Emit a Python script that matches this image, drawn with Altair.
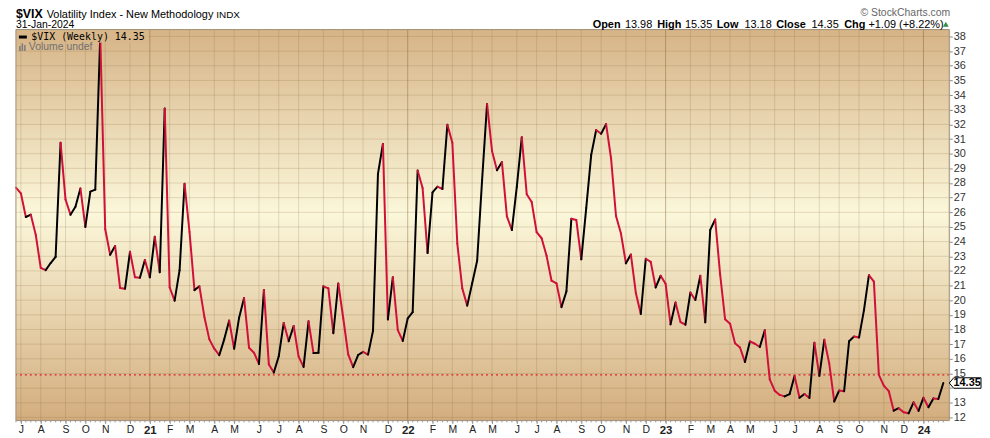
import altair as alt
import pandas as pd

# ---------------- data (weekly closes of $VIX) ----------------
vix_2020 = [27.68, 27.29, 25.68, 25.84, 24.46, 22.21, 22.05, 22.54, 22.96, 30.75,
            26.87, 25.83, 26.38, 27.63, 25.00, 27.41, 27.55, 38.02, 24.86, 23.10,
            23.70, 20.84, 20.79, 23.31, 21.57, 21.53, 22.75]
vix_2021 = [21.56, 24.34, 21.91, 33.09, 20.87, 19.97, 22.05, 27.95, 24.66, 20.69,
            20.95, 18.86, 17.33, 16.69, 16.25, 17.33, 18.61, 16.69, 18.81, 20.15,
            16.76, 16.42, 15.65, 20.70, 15.62, 15.07, 16.18, 18.45, 17.20, 18.24,
            16.15, 15.45, 18.56, 16.39, 16.41, 20.95, 20.81, 17.75, 21.15, 18.77,
            16.30, 15.43, 16.26, 16.48, 16.29, 17.91, 28.62, 30.67, 18.69, 21.57,
            17.96, 17.22]
vix_2022 = [18.76, 19.19, 28.85, 27.66, 23.22, 27.36, 27.75, 27.59, 31.98, 30.75,
            23.87, 20.81, 19.63, 21.16, 22.70, 28.21, 33.40, 30.19, 28.87, 29.43,
            25.72, 24.79, 27.75, 31.13, 27.23, 26.70, 24.64, 24.23, 23.03, 21.33,
            21.15, 19.53, 20.60, 25.56, 25.47, 22.79, 26.30, 29.92, 31.62, 31.36,
            32.02, 29.69, 25.75, 24.55, 22.52, 23.12, 20.50, 19.06, 22.83, 22.62,
            20.87, 21.67]
vix_2023 = [21.13, 18.35, 19.85, 18.51, 18.33, 20.53, 20.02, 21.67, 18.49, 24.80,
            25.51, 21.74, 18.70, 18.40, 17.07, 16.77, 15.78, 17.19, 17.03, 16.81,
            17.95, 14.60, 13.83, 13.54, 13.44, 13.59, 14.83, 13.34, 13.60, 13.33,
            17.10, 14.84, 17.30, 15.68, 13.09, 13.84, 13.79, 17.20, 17.52, 17.45,
            19.32, 21.71, 21.27, 14.91, 14.17, 13.80, 12.46, 12.63, 12.35, 12.28,
            13.03, 12.45]
vix_2024 = [13.35, 12.70, 13.30, 13.26, 14.35]
vix_close = vix_2020 + vix_2021 + vix_2022 + vix_2023 + vix_2024

first_week = "2020-07-03"
week_dates = pd.date_range(first_week, periods=len(vix_close), freq="7D")

y_ticks = list(range(12, 39))
ref_level = 14.9
last_close = vix_close[-1]
open_v, high_v, low_v, close_v = "13.98", "15.35", "13.18", "14.35"
chg_text = "+1.09 (+8.22%)"

# ---------------- layout ----------------
W, H = 941, 394
PX_PER_WEEK = 5.0
x_end = week_dates[0] + pd.Timedelta(days=W / PX_PER_WEEK * 7)
x_start = week_dates[0]


def dt(t):
    return alt.DateTime(year=int(t.year), month=int(t.month), date=int(t.day),
                        hours=int(t.hour), minutes=int(t.minute))


xs = alt.Scale(domain=[dt(x_start), dt(x_end)], nice=False)
ys = alt.Scale(domain=[11.80, 38.47], nice=False, zero=False)

# month ticks: first weekly bar whose week begins inside the month
month_ticks = []
seen = set()
for d in week_dates:
    k = (d.year, d.month)
    if d.day >= 5 and k not in seen:
        seen.add(k)
        month_ticks.append(d)

x_axis = alt.Axis(
    values=[dt(t) for t in month_ticks],
    labelExpr="month(datum.value) == 0 ? timeFormat(datum.value, '%y') : substring(timeFormat(datum.value, '%b'), 0, 1)",
    grid=False, domain=False, tickSize=3, tickColor="#8a8a8a",
    labelFont="Liberation Sans", labelColor="#222222",
    labelFontSize={"condition": {"test": "month(datum.value) == 0", "value": 11.5}, "value": 10.5},
    labelFontWeight={"condition": {"test": "month(datum.value) == 0", "value": "bold"}, "value": "normal"},
    labelPadding=1, labelOverlap=False, labelFlush=False, title=None,
)
# the "14" label sits behind the last-value flag in the original, so it is left blank
y_axis = alt.Axis(
    orient="right", values=y_ticks, grid=False, domain=False, tickSize=3,
    tickColor="#8a8a8a", labelFont="Liberation Sans", labelFontSize=11,
    labelColor="#333333", labelPadding=1, labelOverlap=False, title=None,
    labelExpr=f"abs(datum.value - {round(last_close)}) < 0.01 ? '' : datum.label",
)


def X(field="date:T"):
    return alt.X(field, scale=xs, axis=x_axis)


def Y(field="v:Q"):
    return alt.Y(field, scale=ys, axis=y_axis)


# segments coloured by direction
seg_rows = []
for i in range(1, len(vix_close)):
    direction = "up" if vix_close[i] >= vix_close[i - 1] else "down"
    seg_rows.append({"seg": i, "date": week_dates[i - 1], "v": vix_close[i - 1], "dir": direction})
    seg_rows.append({"seg": i, "date": week_dates[i], "v": vix_close[i], "dir": direction})
seg_df = pd.DataFrame(seg_rows)

one_row = alt.Data(values=[{"k": 0}])

gradient = alt.Gradient(
    gradient="linear",
    stops=[alt.GradientStop(color="#d6b487", offset=0),
           alt.GradientStop(color="#fbf7da", offset=0.47),
           alt.GradientStop(color="#d3ad7e", offset=1)],
    x1=0, x2=0, y1=0, y2=1,
)

bg = alt.Chart(one_row).mark_rect(fill=gradient).encode(
    x=alt.value(0), x2=alt.value(W), y=alt.value(0), y2=alt.value(H))

ygrid = alt.Chart(pd.DataFrame({"v": y_ticks})).mark_rule(
    color="#8a6a3a", strokeOpacity=0.22, strokeWidth=1).encode(y=Y())

mt_df = pd.DataFrame({"date": [t for t in month_ticks if t.month != 1]})
yt_df = pd.DataFrame({"date": [t for t in month_ticks if t.month == 1]})
xgrid = alt.Chart(mt_df).mark_rule(color="#8a6a3a", strokeOpacity=0.22, strokeWidth=1).encode(x=X())
xgrid_y = alt.Chart(yt_df).mark_rule(color="#7a5a2a", strokeOpacity=0.42, strokeWidth=1).encode(x=X())

week_ticks = alt.Chart(pd.DataFrame({"date": week_dates})).mark_rule(
    color="#9a9a9a", strokeWidth=1).encode(x=X(), y=alt.value(H), y2=alt.value(H + 2))

ref_line = alt.Chart(one_row).mark_rule(
    color="#e0202a", strokeDash=[2, 3], strokeWidth=1.2).encode(
    y=alt.YDatum(ref_level, scale=ys, axis=y_axis))

line = alt.Chart(seg_df).mark_line(strokeWidth=2, strokeCap="round", strokeJoin="round").encode(
    x=X(),
    y=Y(),
    color=alt.Color("dir:N", scale=alt.Scale(domain=["up", "down"], range=["#000000", "#d01038"]),
                    legend=None),
    detail="seg:N",
)

# in-plot legend
leg_bg = alt.Chart(one_row).mark_rect(fill="#d8b88b").encode(
    x=alt.value(0), x2=alt.value(134), y=alt.value(0), y2=alt.value(13))
leg_dash = alt.Chart(one_row).mark_rule(color="black", strokeWidth=3).encode(
    x=alt.value(3), x2=alt.value(11), y=alt.value(7.5))
leg_text = alt.Chart(one_row).mark_text(
    font="DejaVu Sans Mono", fontSize=10, align="left", baseline="middle", color="black").encode(
    x=alt.value(15.5), y=alt.value(7.5), text=alt.value(f"$VIX (Weekly) {last_close:.2f}"))
vol_bars = [
    alt.Chart(one_row).mark_rule(color="#7a7a7a", strokeWidth=1.5).encode(
        x=alt.value(xx), y=alt.value(yy), y2=alt.value(21.5))
    for xx, yy in [(4, 16.5), (6.5, 14), (9, 15.5)]
]
vol_text = alt.Chart(one_row).mark_text(
    font="Liberation Sans", fontSize=10.5, align="left", baseline="middle", color="#707070").encode(
    x=alt.value(13), y=alt.value(17.8), text=alt.value("Volume undef"))

border = alt.Chart(one_row).mark_rect(fillOpacity=0, stroke="#a09078", strokeWidth=1).encode(
    x=alt.value(0), x2=alt.value(W), y=alt.value(0), y2=alt.value(H))

last_df = pd.DataFrame({"v": [last_close]})
box_path = "M-1,0 L-0.72,-0.33 L1,-0.33 L1,0.33 L-0.72,0.33 Z"
last_box = alt.Chart(last_df).mark_point(
    shape=box_path, size=1024, filled=True, fill="white", stroke="black",
    strokeWidth=1, opacity=1).encode(x=alt.value(957), y=Y())
last_txt = alt.Chart(last_df).mark_text(
    font="Liberation Sans", fontSize=11, fontWeight="bold", align="center",
    baseline="middle", color="black").encode(
    x=alt.value(959), y=Y(), text=alt.Text("v:Q", format=".2f"))


def txt(s, x, y, size=11, weight="normal", color="black", align="left", font="Liberation Sans"):
    return alt.Chart(one_row).mark_text(
        font=font, fontSize=size, fontWeight=weight, align=align,
        baseline="alphabetic", color=color).encode(
        x=alt.value(x), y=alt.value(y), text=alt.value(s))


R1 = -12.0   # baseline of title row (relative to plot top)
R2 = -1.5    # baseline of date / OHLC row
headers = [
    txt("$VIX", 0, R1, size=12.5, weight="bold"),
    txt("Volatility Index - New Methodology", 31, R1, size=11),
    txt("INDX", 202, R1, size=10),
    txt("31-Jan-2024", 0, R2, size=10.5),
    txt("\u00a9 StockCharts.com", 942, -13.5, size=10.5, color="#666666", align="right"),
    txt("Open", 581.5, R2, weight="bold"),
    txt(open_v, 614, R2),
    txt("High", 646.5, R2, weight="bold"),
    txt(high_v, 674.5, R2),
    txt("Low", 706.5, R2, weight="bold"),
    txt(low_v, 734.5, R2),
    txt("Close", 766.5, R2, weight="bold"),
    txt(close_v, 802, R2),
    txt("Chg", 835, R2, weight="bold"),
    txt(chg_text, 859.5, R2),
]
tri = alt.Chart(one_row).mark_point(
    shape="triangle-up", filled=True, color="#2f8f46", size=34, opacity=1).encode(
    x=alt.value(937.5), y=alt.value(-5.5))

chart = alt.layer(
    bg, ygrid, xgrid, xgrid_y, week_ticks, ref_line, line,
    leg_bg, leg_dash, leg_text, *vol_bars, vol_text,
    border, last_box, last_txt, *headers, tri,
).properties(
    width=W, height=H,
    autosize=alt.AutoSizeParams(type="none"),
    padding={"left": 8, "top": 20, "right": 33, "bottom": 16},
).configure_view(stroke=None).configure(background="white")

chart.save("out.html", embed_options={"renderer": "svg", "actions": False})
